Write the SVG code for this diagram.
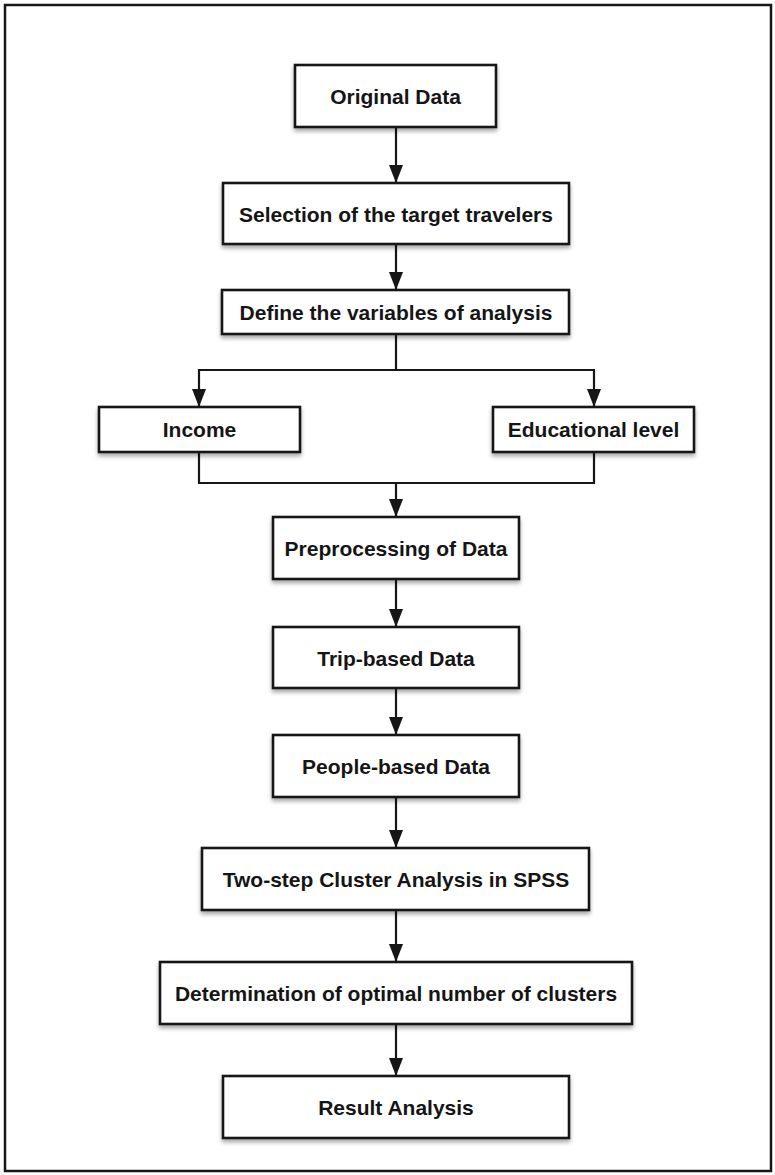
<svg xmlns="http://www.w3.org/2000/svg" width="775" height="1175" viewBox="0 0 775 1175">
  <defs>
    <style>
      .box { fill: #ffffff; stroke: #161616; stroke-width: 2.6; filter: url(#shadow); }
      .lbl { font-family: "Liberation Sans", Arial, Helvetica, sans-serif; font-weight: bold; font-size: 21px; fill: #151515; text-anchor: middle; }
      .wire { fill: none; stroke: #161616; stroke-width: 2.2; }
      .arrow { fill: none; stroke: #161616; stroke-width: 2.2; marker-end: url(#head); }
    </style>
    <filter id="shadow" x="-10%" y="-20%" width="120%" height="160%">
      <feGaussianBlur in="SourceAlpha" stdDeviation="2"/>
      <feOffset dx="0" dy="3" result="off"/>
      <feComponentTransfer><feFuncA type="linear" slope="0.35"/></feComponentTransfer>
      <feMerge><feMergeNode/><feMergeNode in="SourceGraphic"/></feMerge>
    </filter>
    <marker id="head" viewBox="0 0 18 14" refX="18" refY="7" markerWidth="18" markerHeight="14" markerUnits="userSpaceOnUse" orient="auto">
      <path d="M0,0 L18,7 L0,14 Z" fill="#161616"/>
    </marker>
  </defs>

  <!-- outer frame -->
  <rect x="5" y="5" width="766" height="1166" fill="#ffffff" stroke="#161616" stroke-width="2.5"/>

  <g id="connectors">
    <line class="arrow" x1="396" y1="127" x2="396" y2="183"/>
    <line class="arrow" x1="396" y1="244" x2="396" y2="290"/>
    <polyline class="wire" points="396,334 396,370"/>
    <polyline class="wire" points="199,370 594,370"/>
    <line class="arrow" x1="199" y1="369" x2="199" y2="407"/>
    <line class="arrow" x1="594" y1="369" x2="594" y2="407"/>
    <polyline class="wire" points="199,452 199,483 594,483 594,452"/>
    <line class="arrow" x1="396" y1="483" x2="396" y2="517"/>
    <line class="arrow" x1="396" y1="579" x2="396" y2="627"/>
    <line class="arrow" x1="396" y1="688" x2="396" y2="735"/>
    <line class="arrow" x1="396" y1="797" x2="396" y2="848"/>
    <line class="arrow" x1="396" y1="910" x2="396" y2="962"/>
    <line class="arrow" x1="396" y1="1024" x2="396" y2="1076"/>
  </g>

  <g id="original-data">
    <rect class="box" x="295" y="65" width="201" height="62"/>
    <text class="lbl" x="395.5" y="104">Original Data</text>
  </g>
  <g id="selection">
    <rect class="box" x="223" y="183" width="346" height="61"/>
    <text class="lbl" x="396" y="221.5">Selection of the target travelers</text>
  </g>
  <g id="define-variables">
    <rect class="box" x="222" y="290" width="347" height="44"/>
    <text class="lbl" x="396" y="319.5">Define the variables of analysis</text>
  </g>
  <g id="income">
    <rect class="box" x="99" y="407" width="201" height="45"/>
    <text class="lbl" x="199.5" y="437">Income</text>
  </g>
  <g id="educational-level">
    <rect class="box" x="493" y="407" width="201" height="45"/>
    <text class="lbl" x="593.5" y="437">Educational level</text>
  </g>
  <g id="preprocessing">
    <rect class="box" x="273" y="517" width="246" height="62"/>
    <text class="lbl" x="396" y="556">Preprocessing of Data</text>
  </g>
  <g id="trip-based">
    <rect class="box" x="273" y="627" width="246" height="61"/>
    <text class="lbl" x="396" y="665.5">Trip-based Data</text>
  </g>
  <g id="people-based">
    <rect class="box" x="273" y="735" width="246" height="62"/>
    <text class="lbl" x="396" y="774">People-based Data</text>
  </g>
  <g id="two-step">
    <rect class="box" x="202" y="848" width="387" height="62"/>
    <text class="lbl" x="396" y="887">Two-step Cluster Analysis in SPSS</text>
  </g>
  <g id="determination">
    <rect class="box" x="160" y="962" width="472" height="62"/>
    <text class="lbl" x="396" y="1001">Determination of optimal number of clusters</text>
  </g>
  <g id="result">
    <rect class="box" x="223" y="1076" width="346" height="62"/>
    <text class="lbl" x="396" y="1115">Result Analysis</text>
  </g>
</svg>
